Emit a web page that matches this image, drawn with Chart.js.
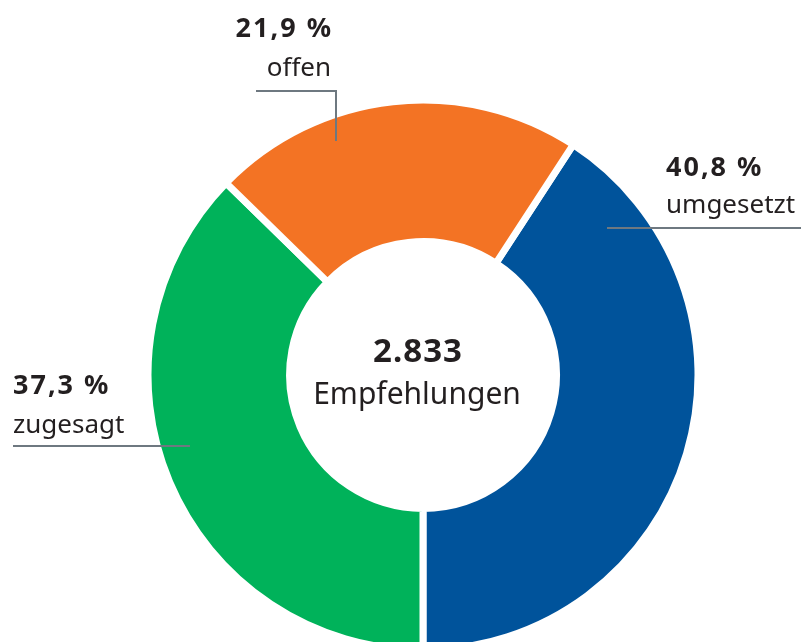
<!DOCTYPE html>
<html>
<head>
<meta charset="utf-8">
<script src="https://cdn.jsdelivr.net/npm/chart.js@4"></script>
<style>
html,body{margin:0;padding:0;background:#fff;}
#wrap{width:801px;height:642px;position:relative;}
</style>
</head>
<body>
<div id="wrap"><canvas id="c" width="801" height="642"></canvas></div>
<script>
const categories = ["umgesetzt", "zugesagt", "offen"];
const shares = [40.8, 37.3, 21.9];
const shareLabels = ["40,8 %", "37,3 %", "21,9 %"];
const colors = ["#00539b", "#00b25a", "#f37324"];
const totalLabel = "2.833";
const totalCaption = "Empfehlungen";

const TEXT = "#231f20";
const LINE = "#6e7880";
const FONT = "'Noto Sans', 'DejaVu Sans', sans-serif";

// rotation so that the first slice ends at 6 o'clock
const sumShares = shares.reduce((a, b) => a + b, 0);
const rotationDeg = 180 - shares[0] / sumShares * 360;

function setSpacing(ctx, px) {
  if ('letterSpacing' in ctx) ctx.letterSpacing = px + 'px';
}

const labelPlugin = {
  id: 'labels',
  afterDraw(chart) {
    const ctx = chart.ctx;
    const arc = chart.getDatasetMeta(0).data[0];
    const cx = arc.x, cy = arc.y;
    ctx.save();
    ctx.fillStyle = TEXT;
    // center
    ctx.textAlign = 'center';
    ctx.textBaseline = 'alphabetic';
    setSpacing(ctx, 1);
    ctx.font = "bold 33px " + FONT;
    ctx.fillText(totalLabel, cx - 5, cy - 13);
    setSpacing(ctx, 0);
    ctx.font = "30px " + FONT;
    ctx.fillText(totalCaption, cx - 6, cy + 29);

    ctx.strokeStyle = LINE;
    ctx.lineWidth = 2;
    // offen (index 2)
    ctx.beginPath();
    ctx.moveTo(cx - 167, cy - 284);
    ctx.lineTo(cx - 87, cy - 284);
    ctx.lineTo(cx - 87, cy - 234);
    ctx.stroke();
    ctx.textAlign = 'right';
    setSpacing(ctx, 2);
    ctx.font = "bold 27px " + FONT;
    ctx.fillText(shareLabels[2], cx - 90, cy - 338);
    setSpacing(ctx, 0);
    ctx.font = "26px " + FONT;
    ctx.fillText(categories[2], cx - 92, cy - 299);

    // umgesetzt (index 0)
    ctx.beginPath();
    ctx.moveTo(cx + 184, cy - 147);
    ctx.lineTo(cx + 380, cy - 147);
    ctx.stroke();
    ctx.textAlign = 'left';
    setSpacing(ctx, 2);
    ctx.font = "bold 27px " + FONT;
    ctx.fillText(shareLabels[0], cx + 243, cy - 199);
    setSpacing(ctx, 0);
    ctx.font = "26px " + FONT;
    ctx.fillText(categories[0], cx + 243, cy - 162);

    // zugesagt (index 1)
    ctx.beginPath();
    ctx.moveTo(cx - 410, cy + 71);
    ctx.lineTo(cx - 233, cy + 71);
    ctx.stroke();
    setSpacing(ctx, 2);
    ctx.font = "bold 27px " + FONT;
    ctx.fillText(shareLabels[1], cx - 410, cy + 19);
    setSpacing(ctx, 0);
    ctx.font = "26px " + FONT;
    ctx.fillText(categories[1], cx - 410, cy + 58);
    ctx.restore();
  }
};

new Chart(document.getElementById('c'), {
  type: 'doughnut',
  data: {
    labels: categories,
    datasets: [{
      data: shares,
      backgroundColor: colors,
      borderColor: '#ffffff',
      borderWidth: 7,
      hoverOffset: 0
    }]
  },
  options: {
    responsive: false,
    animation: false,
    rotation: rotationDeg,
    radius: 275,
    cutout: '48.5%',
    layout: { padding: { left: 45, right: 0, top: 108, bottom: 0 } },
    plugins: {
      legend: { display: false },
      tooltip: { enabled: false }
    },
    events: []
  },
  plugins: [labelPlugin]
});
</script>
</body>
</html>
